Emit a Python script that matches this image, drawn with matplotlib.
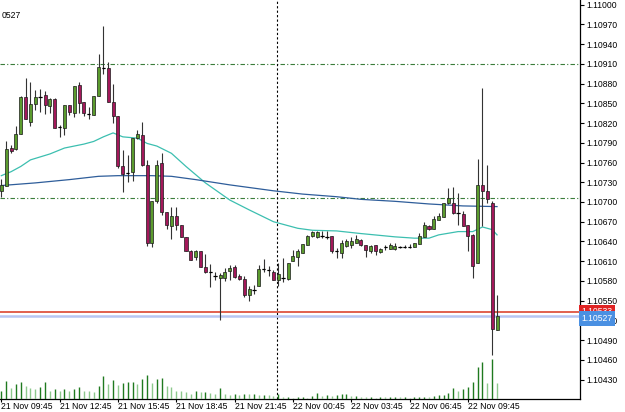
import matplotlib
matplotlib.use('Agg')
import matplotlib.pyplot as plt
import numpy as np

plt.rcParams['font.family'] = ['Liberation Sans', 'DejaVu Sans']

# EURUSD M15, 21 Nov 09:45 -> 22 Nov 11:15
opens = [1.10716, 1.10725, 1.10782, 1.10780, 1.10804, 1.10859, 1.10821, 1.10849, 1.10860, 1.10862,
         1.10846, 1.10857, 1.10814, 1.10813, 1.10847, 1.10836, 1.10878, 1.10852, 1.10834, 1.10832,
         1.10861, 1.10904, 1.10904, 1.10852, 1.10831, 1.10755, 1.10744, 1.10745, 1.10798, 1.10802,
         1.10756, 1.10638, 1.10702, 1.10759, 1.10685, 1.10664, 1.10679, 1.10665, 1.10647, 1.10625,
         1.10616, 1.10626, 1.10601, 1.10593, 1.10588, 1.10584, 1.10585, 1.10595, 1.10601, 1.10587,
         1.10583, 1.10558, 1.10566, 1.10572, 1.10598, 1.10597, 1.10593, 1.10582, 1.10584, 1.10583,
         1.10610, 1.10617, 1.10623, 1.10635, 1.10649, 1.10647, 1.10649, 1.10647, 1.10649, 1.10625,
         1.10622, 1.10633, 1.10634, 1.10638, 1.10642, 1.10634, 1.10625, 1.10634, 1.10624, 1.10631,
         1.10629, 1.10628, 1.10631, 1.10632, 1.10632, 1.10632, 1.10636, 1.10647, 1.10664, 1.10659,
         1.10673, 1.10677, 1.10698, 1.10698, 1.10683, 1.10681, 1.10665, 1.10650, 1.10608, 1.10726,
         1.10717, 1.10698, 1.10506]
highs = [1.10735, 1.10792, 1.10787, 1.10816, 1.10861, 1.10888, 1.10883, 1.10870, 1.10871, 1.10869,
         1.10858, 1.10858, 1.10817, 1.10848, 1.10848, 1.10876, 1.10882, 1.10852, 1.10844, 1.10861,
         1.10925, 1.10968, 1.10913, 1.10880, 1.10831, 1.10779, 1.10772, 1.10797, 1.10810, 1.10821,
         1.10764, 1.10701, 1.10764, 1.10775, 1.10685, 1.10692, 1.10692, 1.10665, 1.10647, 1.10627,
         1.10627, 1.10626, 1.10621, 1.10606, 1.10593, 1.10592, 1.10600, 1.10604, 1.10604, 1.10591,
         1.10588, 1.10572, 1.10574, 1.10604, 1.10613, 1.10602, 1.10597, 1.10607, 1.10615, 1.10608,
         1.10627, 1.10628, 1.10636, 1.10650, 1.10656, 1.10656, 1.10656, 1.10656, 1.10649, 1.10630,
         1.10642, 1.10643, 1.10647, 1.10650, 1.10643, 1.10635, 1.10635, 1.10635, 1.10630, 1.10634,
         1.10637, 1.10637, 1.10633, 1.10634, 1.10636, 1.10637, 1.10653, 1.10669, 1.10665, 1.10679,
         1.10684, 1.10699, 1.10721, 1.10723, 1.10714, 1.10686, 1.10665, 1.10651, 1.10766, 1.10873,
         1.10756, 1.10701, 1.10559]
lows = [1.10708, 1.10724, 1.10774, 1.10779, 1.10804, 1.10826, 1.10816, 1.10840, 1.10837, 1.10833,
        1.10835, 1.10812, 1.10799, 1.10802, 1.10832, 1.10829, 1.10835, 1.10830, 1.10826, 1.10832,
        1.10861, 1.10895, 1.10852, 1.10820, 1.10752, 1.10715, 1.10731, 1.10732, 1.10796, 1.10754,
        1.10633, 1.10631, 1.10699, 1.10680, 1.10659, 1.10644, 1.10658, 1.10647, 1.10625, 1.10612,
        1.10612, 1.10601, 1.10592, 1.10571, 1.10582, 1.10521, 1.10580, 1.10582, 1.10584, 1.10582,
        1.10556, 1.10549, 1.10560, 1.10572, 1.10594, 1.10587, 1.10581, 1.10572, 1.10579, 1.10582,
        1.10610, 1.10603, 1.10623, 1.10635, 1.10647, 1.10645, 1.10645, 1.10643, 1.10623, 1.10615,
        1.10615, 1.10631, 1.10630, 1.10637, 1.10633, 1.10617, 1.10623, 1.10619, 1.10623, 1.10627,
        1.10628, 1.10627, 1.10630, 1.10630, 1.10630, 1.10632, 1.10636, 1.10647, 1.10658, 1.10659,
        1.10673, 1.10677, 1.10697, 1.10682, 1.10665, 1.10663, 1.10626, 1.10585, 1.10608, 1.10663,
        1.10698, 1.10468, 1.10506]
closes = [1.10726, 1.10780, 1.10777, 1.10803, 1.10859, 1.10826, 1.10849, 1.10860, 1.10860, 1.10847,
          1.10857, 1.10812, 1.10814, 1.10847, 1.10837, 1.10876, 1.10850, 1.10836, 1.10834, 1.10861,
          1.10905, 1.10904, 1.10852, 1.10831, 1.10755, 1.10742, 1.10744, 1.10797, 1.10803, 1.10756,
          1.10638, 1.10701, 1.10756, 1.10685, 1.10665, 1.10679, 1.10665, 1.10647, 1.10625, 1.10612,
          1.10625, 1.10601, 1.10593, 1.10593, 1.10588, 1.10589, 1.10594, 1.10600, 1.10586, 1.10583,
          1.10558, 1.10568, 1.10566, 1.10598, 1.10598, 1.10597, 1.10582, 1.10590, 1.10584, 1.10607,
          1.10618, 1.10626, 1.10636, 1.10649, 1.10654, 1.10655, 1.10649, 1.10647, 1.10625, 1.10625,
          1.10638, 1.10640, 1.10641, 1.10643, 1.10634, 1.10627, 1.10633, 1.10625, 1.10629, 1.10631,
          1.10634, 1.10633, 1.10631, 1.10632, 1.10632, 1.10637, 1.10649, 1.10665, 1.10659, 1.10674,
          1.10679, 1.10698, 1.10706, 1.10683, 1.10683, 1.10664, 1.10649, 1.10602, 1.10726, 1.10717,
          1.10704, 1.10507, 1.10527]
volumes = [154, 354, 220, 288, 334, 254, 208, 200, 240, 334,
           154, 188, 160, 194, 160, 200, 240, 160, 154, 140,
           254, 454, 294, 374, 268, 320, 334, 334, 294, 388,
           474, 320, 394, 420, 260, 228, 160, 154, 134, 100,
           160, 134, 134, 120, 94, 220, 94, 74, 94, 74,
           94, 88, 88, 68, 80, 74, 54, 94, 40, 40,
           20, 40, 40, 20, 54, 120, 54, 74, 54, 74,
           94, 94, 54, 54, 40, 28, 40, 20, 40, 28,
           28, 40, 28, 34, 20, 28, 28, 40, 28, 54,
           74, 74, 108, 220, 160, 188, 228, 340, 640, 734,
           308, 800, 308]

# moving averages
fast_ma_bars = [0, 2, 4, 6, 10, 13, 17, 19, 21, 23, 25, 28, 30, 32, 35, 38, 42, 47, 51, 56,
                61, 64, 69, 74, 81, 85, 88, 90, 94, 97, 99, 101, 102]
fast_ma = [1.10740, 1.10746, 1.10754, 1.10764, 1.10773, 1.10782, 1.10788, 1.10792, 1.10799, 1.10805,
           1.10799, 1.10797, 1.10789, 1.10785, 1.10774, 1.10754, 1.10729, 1.10703, 1.10688, 1.10670,
           1.10660, 1.10657, 1.10656, 1.10652, 1.10647, 1.10645, 1.10645, 1.10650, 1.10655, 1.10655,
           1.10662, 1.10658, 1.10650]
slow_ma_bars = [0, 7, 14, 20, 24, 27, 31, 35, 40, 47, 56, 62, 69, 74, 81, 88, 95, 102]
slow_ma = [1.10725, 1.10729, 1.10734, 1.10739, 1.10740, 1.10740, 1.10740, 1.10739, 1.10734, 1.10726,
           1.10717, 1.10712, 1.10708, 1.10704, 1.10701, 1.10697, 1.10694, 1.10693]

levels = [1.10910, 1.10706]
ask = 1.10533
bid = 1.10527
day_sep_bar = 57

tick_bars = [0, 12, 24, 36, 48, 60, 72, 84, 96]
tick_labels = ['21 Nov 09:45', '21 Nov 12:45', '21 Nov 15:45', '21 Nov 18:45', '21 Nov 21:45',
               '22 Nov 00:45', '22 Nov 03:45', '22 Nov 06:45', '22 Nov 09:45']
price_ticks = np.arange(1.10430, 1.110001, 0.0003)

bull = '#5b9b2e'
bear = '#a3185a'

fig = plt.figure(figsize=(6.25, 4.12), dpi=100)
ax = fig.add_axes([0, 13.3 / 412, 580 / 625, 398.7 / 412])

x = np.arange(len(opens))
o = np.array(opens)
c = np.array(closes)

# horizontal / vertical lines
for lv in levels:
    ax.axhline(lv, color='#3a7d3a', lw=0.8, ls=(0, (4, 2, 1, 2)), zorder=1)
ax.axvline(day_sep_bar - 0.3, color='black', lw=0.8, ls=(0, (2, 2)), zorder=1)
ax.axhline(bid, color='#b8c6f2', lw=1.8, zorder=1)
ax.axhline(ask, color='#d9361e', lw=1.1, zorder=1)

# moving averages
ax.plot(fast_ma_bars, fast_ma, color='#3cbfb0', lw=0.9, zorder=2)
ax.plot(slow_ma_bars, slow_ma, color='#2e5d9a', lw=0.9, zorder=2)

# candles
ax.vlines(x, lows, highs, color='#333333', lw=0.8, zorder=3)
cols = [bull if cc > oo else bear for oo, cc in zip(o, c)]
ax.bar(x, np.abs(c - o), bottom=np.minimum(o, c), width=0.62, color=cols,
       edgecolor='#1a1a1a', linewidth=0.5, zorder=4)
doji = x[o == c]
ax.hlines(o[o == c], doji - 0.35, doji + 0.35, color='black', lw=0.9, zorder=4)

ax.set_xlim(-0.27, 119.07)
ax.set_ylim(1.10401, 1.11007)

# volumes at the bottom
ax2 = ax.twinx()
ax2.set_ylim(0, 7980)
vcols = ['#1f7a1f' if i == 0 or volumes[i] >= volumes[i - 1] else '#8cc88c' for i in range(len(volumes))]
ax2.vlines(x, 0, volumes, colors=vcols, lw=1.0)
ax2.axis('off')

ax.spines['top'].set_visible(False)
ax.spines['left'].set_visible(False)
ax.spines['right'].set_visible(True)
ax.spines['right'].set_linewidth(0.9)
ax.spines['bottom'].set_linewidth(0.9)

ax.yaxis.tick_right()
ax.set_yticks(price_ticks)
ax.set_yticklabels(['%.5f' % p for p in price_ticks])
ax.set_xticks(tick_bars)
ax.set_xticklabels(tick_labels)
for lbl in ax.get_xticklabels():
    lbl.set_ha('left')
ax.tick_params(axis='x', direction='out', length=2, width=0.8, labelsize=6.2, pad=0.5)
ax.tick_params(axis='y', direction='out', length=3, width=0.8, labelsize=6.2, pad=1.5)

# price labels on the right
ax.text(1.003, ask, '%.5f' % ask, transform=ax.get_yaxis_transform(), va='center', ha='left',
        fontsize=6.2, color='white', zorder=10, clip_on=False,
        bbox=dict(boxstyle='square,pad=0.3', fc='#e02424', ec='none'))
ax.text(1.003, bid - 0.00004, '%.5f' % bid, transform=ax.get_yaxis_transform(), va='center', ha='left',
        fontsize=6.2, color='white', zorder=11, clip_on=False,
        bbox=dict(boxstyle='square,pad=0.3', fc='#4a90e2', ec='none'))

fig.text(2 / 625, 1 - 15 / 412, '0527', fontsize=6.2, va='center', ha='left')

fig.savefig('out.png', dpi=100)
